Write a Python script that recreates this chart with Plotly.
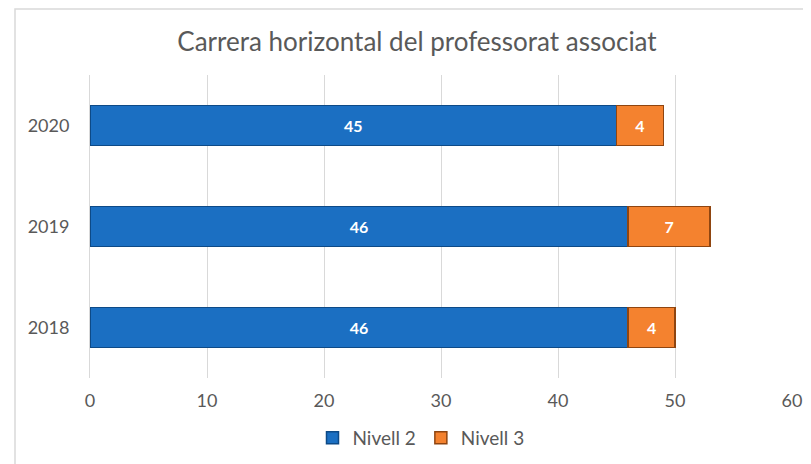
import plotly.graph_objects as go

years = ["2018", "2019", "2020"]
nivell2 = [46, 46, 45]
nivell3 = [4, 7, 4]
x_ticks = [0, 10, 20, 30, 40, 50, 60]

# page body has an 8px offset; lay out in figure coordinates
OFF = 8
W, H = 811 - OFF, 464 - OFF
L, R, T, B = 90 - OFF, 19, 75 - OFF, 86
pw, ph = W - L - R, H - T - B

fig = go.Figure()
fig.add_trace(go.Bar(
    y=years, x=nivell2, name="Nivell 2", orientation="h",
    marker=dict(color="#1b6fc2", line=dict(color="#0d4a87", width=1.5)),
    text=nivell2, textposition="inside", insidetextanchor="middle",
    textfont=dict(color="white", size=16, family="Lato", weight="bold"),
))
fig.add_trace(go.Bar(
    y=years, x=nivell3, name="Nivell 3", orientation="h",
    marker=dict(color="#f4822f", line=dict(color="#8f4510", width=1.5)),
    text=nivell3, textposition="inside", insidetextanchor="middle",
    textfont=dict(color="white", size=16, family="Lato", weight="bold"),
))

fig.update_layout(
    barmode="stack",
    bargap=0.6,
    width=W, height=H,
    margin=dict(l=L, r=R, t=T, b=B, autoexpand=False),
    paper_bgcolor="white", plot_bgcolor="white",
    title=dict(text="Carrera horizontal del professorat associat",
               x=(417 - OFF) / W, xref="container", xanchor="center",
               y=1 - (42 - OFF) / H, yanchor="middle",
               font=dict(family="Lato", size=26, color="#595959")),
    font=dict(family="Lato", color="#595959"),
    xaxis=dict(range=[0, 60], tickvals=x_ticks, showgrid=True, gridcolor="#d9d9d9",
               gridwidth=1, zeroline=False, showline=False, automargin=False,
               tickfont=dict(size=18, color="#595959"), ticks="",
               ticklabelstandoff=10),
    yaxis=dict(showline=True, linecolor="#d9d9d9", linewidth=1, showgrid=False,
               automargin=False,
               tickfont=dict(size=18, color="#595959"), ticks="",
               ticklabelstandoff=16),
    legend=dict(orientation="h", x=(421 - OFF) / W, xref="container", xanchor="center",
                y=1 - (438 - OFF) / H, yref="container",
                yanchor="middle", font=dict(size=19, color="#595959"),
                traceorder="normal"),
    shapes=[dict(type="rect", xref="paper", yref="paper",
                 x0=(15 - OFF - L) / pw, x1=1.1, y0=-0.5, y1=1 + (T - 1) / ph,
                 line=dict(color="#d9d9d9", width=1.5), layer="below")],
)

fig.write_html("out.html")
